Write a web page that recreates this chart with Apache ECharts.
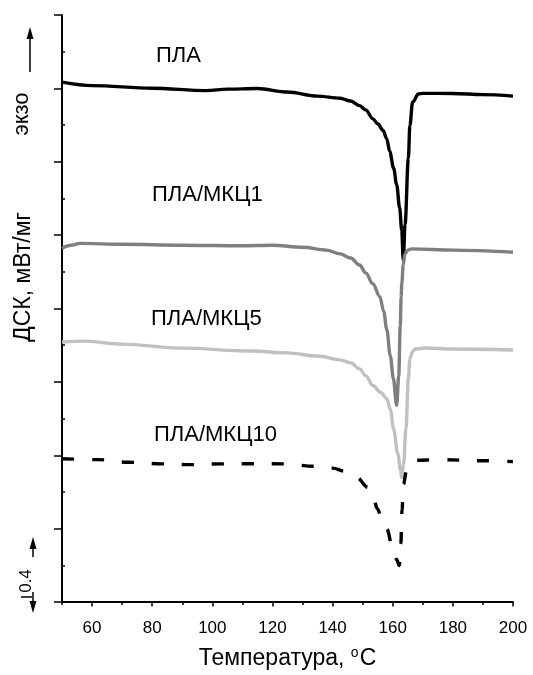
<!DOCTYPE html>
<html>
<head>
<meta charset="utf-8">
<script src="https://cdn.jsdelivr.net/npm/echarts@6/dist/echarts.min.js"></script>
<style>
  html, body { margin: 0; padding: 0; background: #fff; }
  #chart { width: 533px; height: 675px; }
</style>
</head>
<body>
<div id="chart"></div>
<script>
// DSC thermograms: temperature (°C) vs heat flow (mW/mg, curves stacked with offsets)
const tPLA = [50, 60, 80, 98, 105, 115, 125, 135, 142.5, 146, 149, 151, 153.4, 155, 156.8, 158, 159, 160.3, 161.3, 162.3, 163, 163.5, 164.1, 165.2, 165.7, 166.6, 168.5, 170, 180, 190, 200];
const dscPLA = [2.834, 2.815, 2.801, 2.788, 2.796, 2.799, 2.780, 2.758, 2.746, 2.731, 2.706, 2.683, 2.634, 2.607, 2.571, 2.526, 2.456, 2.365, 2.275, 2.149, 2.025, 1.864, 2.059, 2.419, 2.598, 2.724, 2.769, 2.773, 2.772, 2.766, 2.758];

const tMKC1 = [50, 53, 56, 70, 90, 110, 120, 130, 138, 142.5, 146, 149, 151, 153.4, 155.7, 157, 158, 159.2, 160.2, 161.3, 162, 162.5, 162.8, 163, 163.5, 164, 165, 166.3, 180, 200];
const dscMKC1 = [1.929, 1.945, 1.955, 1.950, 1.945, 1.942, 1.945, 1.934, 1.918, 1.898, 1.875, 1.837, 1.794, 1.735, 1.665, 1.584, 1.487, 1.341, 1.218, 1.072, 1.234, 1.503, 1.665, 1.735, 1.837, 1.896, 1.918, 1.925, 1.918, 1.907];

const tMKC5 = [50, 57, 70, 90, 112.5, 125, 135, 142.5, 146, 149, 151, 153.4, 156, 158, 159.3, 160.2, 161.8, 162.5, 163, 163.6, 164.4, 165.2, 165.7, 166.5, 167.4, 171, 180, 200];
const dscMKC5 = [1.417, 1.422, 1.406, 1.384, 1.368, 1.358, 1.341, 1.320, 1.304, 1.271, 1.234, 1.180, 1.142, 1.110, 1.045, 0.948, 0.803, 0.722, 0.679, 0.749, 0.948, 1.217, 1.325, 1.363, 1.379, 1.385, 1.379, 1.374];

const tMKC10 = [50, 62, 72, 83, 93, 103, 113, 124, 134, 140, 144, 148, 151.8, 153.4, 155, 156.3, 158, 160.2, 161.3, 162.2, 162.7, 163.1, 163.6, 164.5, 166, 168, 175, 190, 200];
const dscMKC10 = [0.781, 0.776, 0.762, 0.753, 0.749, 0.753, 0.754, 0.753, 0.740, 0.730, 0.713, 0.679, 0.625, 0.571, 0.506, 0.453, 0.399, 0.280, 0.232, 0.199, 0.318, 0.506, 0.641, 0.711, 0.760, 0.773, 0.776, 0.770, 0.765];

const seriesNames = ['ПЛА', 'ПЛА/МКЦ1', 'ПЛА/МКЦ5', 'ПЛА/МКЦ10'];
const xLabelValues = [60, 80, 100, 120, 140, 160, 180, 200];
const xMajorTicks = [60, 80, 100, 120, 140, 160, 180, 200];
const yMinorTicks = [0.2, 0.6, 1.0, 1.4, 1.8, 2.2, 2.6, 3.0];
const xTitle = 'Температура, ';
const yTitle = 'ДСК, мВт/мг';
const exoText = 'экзо';
const scaleText = '0.4';

const FONT = '"Liberation Sans", Arial, sans-serif';
const zip = (xs, ys) => xs.map((x, i) => [x, ys[i]]);

const chart = echarts.init(document.getElementById('chart'), null, { renderer: 'canvas' });

function lineSeries(name, xs, ys, color, dashed) {
  return {
    name: name,
    type: 'line',
    xAxisIndex: 0,
    yAxisIndex: 0,
    data: zip(xs, ys),
    showSymbol: false,
    symbol: 'none',
    smooth: 0.35,
    smoothMonotone: 'x',
    lineStyle: { color: color, width: 3.4, type: dashed ? [12, 18] : 'solid', cap: 'butt', join: 'round' },
    emphasis: { disabled: true },
    silent: true,
    z: 3
  };
}

const option = {
  animation: false,
  backgroundColor: '#ffffff',
  grid: { left: 62, right: 20, top: 15, bottom: 66, containLabel: false },
  xAxis: [
    {
      type: 'value', min: 50, max: 200, interval: 10,
      position: 'bottom',
      axisLine: { show: true, onZero: false, lineStyle: { color: '#000', width: 2 } },
      axisTick: { show: true, length: 3, lineStyle: { color: '#000', width: 1.5 } },
      axisLabel: {
        show: true, margin: 18, color: '#000', fontFamily: FONT, fontSize: 17,
        customValues: xLabelValues,
        formatter: v => (v % 20 === 0 && v >= 60) ? String(v) : ''
      },
      splitLine: { show: false },
      name: xTitle + '{sup|o}C',
      nameLocation: 'middle', nameGap: 44,
      nameTextStyle: {
        color: '#000', fontFamily: FONT, fontSize: 23,
        rich: { sup: { fontSize: 14, fontFamily: FONT, color: '#000', verticalAlign: 'top', padding: [0, 1, 11, 0] } }
      }
    },
    {
      type: 'value', min: 50, max: 200, interval: 10,
      position: 'bottom',
      axisLine: { show: false },
      axisTick: { show: true, length: 4.5, customValues: xMajorTicks, lineStyle: { color: '#000', width: 1.5 } },
      axisLabel: { show: false },
      splitLine: { show: false }
    }
  ],
  yAxis: [
    {
      type: 'value', min: 0, max: 3.2, interval: 0.4,
      position: 'left',
      axisLine: { show: true, onZero: false, lineStyle: { color: '#000', width: 2 } },
      axisTick: { show: true, length: 8, lineStyle: { color: '#000', width: 1.5 } },
      axisLabel: { show: false },
      splitLine: { show: false }
    },
    {
      type: 'value', min: 0, max: 3.2, interval: 0.4,
      position: 'left',
      axisLine: { show: false },
      axisTick: { show: true, inside: true, length: 3, customValues: yMinorTicks, lineStyle: { color: '#000', width: 1.5 } },
      axisLabel: { show: false },
      splitLine: { show: false }
    }
  ],
  series: [
    lineSeries(seriesNames[0], tPLA, dscPLA, '#000000', false),
    lineSeries(seriesNames[1], tMKC1, dscMKC1, '#7f7f7f', false),
    lineSeries(seriesNames[2], tMKC5, dscMKC5, '#c0c0c0', false),
    lineSeries(seriesNames[3], tMKC10, dscMKC10, '#000000', true)
  ],
  graphic: [
    // curve captions
    { type: 'text', left: 156, top: 45, style: { text: seriesNames[0], font: '22px ' + FONT, fill: '#000' } },
    { type: 'text', left: 152, top: 184, style: { text: seriesNames[1], font: '22px ' + FONT, fill: '#000' } },
    { type: 'text', left: 151, top: 308, style: { text: seriesNames[2], font: '22px ' + FONT, fill: '#000' } },
    { type: 'text', left: 154, top: 424, style: { text: seriesNames[3], font: '22px ' + FONT, fill: '#000' } },
    // y-axis title
    { type: 'text', x: 24, y: 277, rotation: Math.PI / 2,
      style: { text: yTitle, font: '23px ' + FONT, fill: '#000', align: 'center', verticalAlign: 'middle' } },
    // exotherm direction
    { type: 'text', x: 22, y: 114, rotation: Math.PI / 2,
      style: { text: exoText, font: '22px ' + FONT, fill: '#000', align: 'center', verticalAlign: 'middle' } },
    { type: 'line', shape: { x1: 30, y1: 72, x2: 30, y2: 36 }, style: { stroke: '#000', lineWidth: 1.5 } },
    { type: 'polygon', shape: { points: [[30, 27], [26.5, 39], [33.5, 39]] }, style: { fill: '#000' } },
    // 0.4 mW/mg scale bar
    { type: 'text', x: 26, y: 581, rotation: Math.PI / 2,
      style: { text: scaleText, font: '17px ' + FONT, fill: '#000', align: 'center', verticalAlign: 'middle' } },
    { type: 'line', shape: { x1: 33, y1: 557, x2: 33, y2: 545 }, style: { stroke: '#000', lineWidth: 1.5 } },
    { type: 'polygon', shape: { points: [[33, 537], [29.5, 549], [36.5, 549]] }, style: { fill: '#000' } },
    { type: 'line', shape: { x1: 33, y1: 592, x2: 33, y2: 603 }, style: { stroke: '#000', lineWidth: 1.5 } },
    { type: 'polygon', shape: { points: [[33, 613], [29.5, 601], [36.5, 601]] }, style: { fill: '#000' } },
    { type: 'line', shape: { x1: 21, y1: 597, x2: 32, y2: 597 }, style: { stroke: '#000', lineWidth: 1.5 } }
  ]
};

chart.setOption(option);
</script>
</body>
</html>
